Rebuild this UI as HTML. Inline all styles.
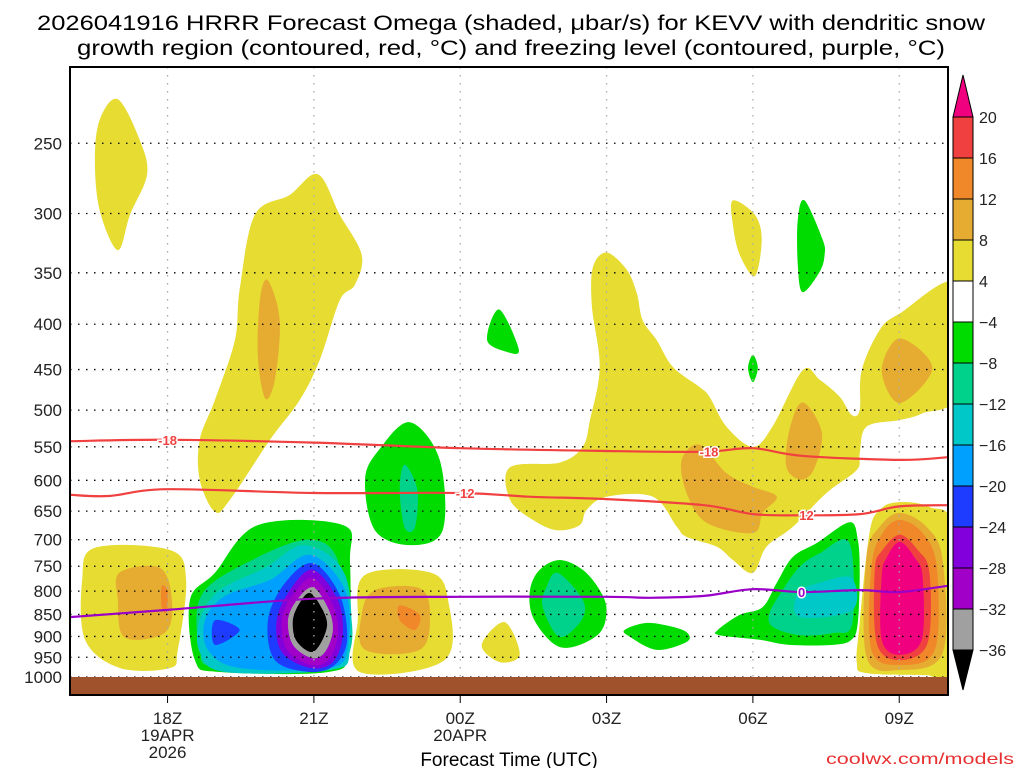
<!DOCTYPE html>
<html><head><meta charset="utf-8"><style>
html,body{margin:0;padding:0;background:#fff;}
svg{display:block;font-family:"Liberation Sans","DejaVu Sans",sans-serif;}
</style></head><body>
<svg id="chart" width="1024" height="768" viewBox="0 0 1024 768" xmlns="http://www.w3.org/2000/svg">
<rect x="0" y="0" width="1024" height="768" fill="#fff"/>
<text x="511" y="30" font-size="21" text-anchor="middle" textLength="948" lengthAdjust="spacingAndGlyphs">2026041916 HRRR Forecast Omega (shaded, μbar/s) for KEVV with dendritic snow</text>
<text x="511" y="55" font-size="21" text-anchor="middle" textLength="868" lengthAdjust="spacingAndGlyphs">growth region (contoured, red, °C) and freezing level (contoured, purple, °C)</text>
<defs><clipPath id="plotclip"><rect x="70" y="67" width="878" height="628"/></clipPath></defs>
<g id="fills" clip-path="url(#plotclip)"></g>
<g id="grid"></g>
<g id="lines" clip-path="url(#plotclip)"></g>
<rect x="70" y="677" width="878" height="18" fill="#a0522d"/>
<rect x="70" y="67" width="878" height="628" fill="none" stroke="#000" stroke-width="2"/>
<g id="axes"></g>
<g id="cbar"></g>
<text x="509" y="766" font-size="19" text-anchor="middle">Forecast Time (UTC)</text>
<text x="1014" y="764" font-size="16" fill="#e83030" text-anchor="end" textLength="188" lengthAdjust="spacingAndGlyphs">coolwx.com/models</text>
</svg>
<script>
// ---- data ----
const pressureTicks = [250,300,350,400,450,500,550,600,650,700,750,800,850,900,950,1000];
const timeTickHours = [2,5,8,11,14,17];
const timeTickLabels = [["18Z","19APR","2026"],["21Z"],["00Z","20APR"],["03Z"],["06Z"],["09Z"]];
const cbarLevels = [20,16,12,8,4,-4,-8,-12,-16,-20,-24,-28,-32,-36];
const cbarColors = ["#f0007f","#f04040","#f0882a","#e6ac32","#e6dc32","#ffffff","#00dc00","#00d28c","#00c8c8","#00a0ff","#1e3cff","#8200dc","#a000c8","#a0a0a0","#000000"];
// blobs: [colorIndex, [[hour, pressure], ...]]  (hour 0 = 16Z 19APR)
const blobTopLeft = [4,[[0.98,223],[1.43,248],[1.58,271],[1.23,301],[0.98,330],[0.61,298],[0.51,261],[0.61,235]]];
const blobUpperYellow = [4,[[5.08,271],[5.53,301],[5.98,334],[5.84,361],[5.53,376],[5.12,439],[4.71,487],[4.1,540],[3.28,631],[2.97,651],[2.66,599],[2.66,540],[2.97,487],[3.38,417],[3.48,365],[3.79,301],[4.5,286]]];
const blobUpperOrange = [3,[[4.06,357],[4.3,396],[4.2,462],[4.0,485],[3.85,434],[3.9,373]]];
const blobLLYellow = [4,[[0.51,715],[2.05,719],[2.38,777],[2.21,932],[2.05,977],[1.02,977],[0.31,908],[0.25,777]]];
const blobLLOrange = [3,[[1.02,762],[1.84,753],[2.09,818],[1.95,891],[1.12,902],[0.98,818]]];
const blobLLOrange2 = [2,[[1.88,790],[2.0,800],[1.98,845],[1.88,835]]];
const blobCoreGreen = [6,[[3.85,674],[5.6,674],[5.74,740],[5.7,932],[5.3,987],[3.07,987],[2.56,957],[2.46,818],[2.97,763]]];
const blobCoreTeal = [7,[[4.92,700],[5.53,750],[5.6,960],[3.07,975],[2.66,930],[2.7,808],[3.69,740]]];
const blobCoreCyan = [8,[[4.82,710],[5.64,767],[5.74,932],[5.33,982],[3.18,987],[2.66,937],[2.66,862],[3.07,798],[4.0,753]]];
const blobCoreLtBlue = [9,[[4.92,728],[5.64,798],[5.7,920],[5.33,977],[3.48,977],[2.83,932],[2.77,862],[3.18,810],[4.1,777]]];
const blobCoreBlueL = [10,[[2.97,863],[3.48,885],[2.97,920]]];
const blobCoreBlue = [10,[[4.98,744],[5.53,808],[5.68,908],[5.43,969],[4.92,987],[4.2,957],[4.06,862],[4.41,783]]];
const blobCorePurple = [11,[[4.98,757],[5.49,819],[5.59,897],[5.39,962],[4.92,977],[4.34,937],[4.24,862],[4.51,798]]];
const blobCoreMagenta = [12,[[4.98,773],[5.39,829],[5.49,897],[5.29,957],[4.92,969],[4.45,932],[4.34,862],[4.57,808]]];
const blobCoreGray = [13,[[4.98,792],[5.29,836],[5.39,885],[5.23,937],[4.96,952],[4.57,920],[4.47,862],[4.65,819]]];
const blobCoreBlack = [14,[[4.92,804],[5.16,836],[5.27,874],[5.12,920],[4.92,937],[4.63,908],[4.57,862],[4.71,825]]];
const blobMidYellow = [4,[[6.05,767],[7.38,762],[7.75,818],[7.68,957],[5.94,987],[5.9,863]]];
const blobMidOrange = [3,[[6.25,798],[7.17,794],[7.38,851],[7.17,932],[6.05,932],[5.98,851]]];
const blobMidOrange2 = [2,[[6.76,830],[7.17,851],[7.07,885],[6.76,863]]];
const blobGreen600 = [6,[[6.97,516],[7.58,569],[7.64,683],[6.97,710],[6.25,683],[6.05,598],[6.35,553]]];
const blobTeal600 = [7,[[6.86,576],[7.12,615],[7.07,678],[6.86,678],[6.76,615]]];
const blobGreen420 = [6,[[8.8,385],[9.2,427],[8.97,430],[8.55,417]]];
const blobSmallYellow = [4,[[8.91,867],[9.22,944],[8.81,962],[8.44,920]]];
const blobGreen02 = [6,[[10.04,738],[10.51,757],[10.86,798],[11.0,840],[10.86,892],[10.31,925],[9.9,916],[9.49,856],[9.43,798],[9.63,757]]];
const blobTeal02 = [7,[[10.0,763],[10.51,818],[10.49,862],[10.04,901],[9.69,834],[9.77,791]]];
const blobGreen04 = [6,[[11.37,885],[11.82,869],[12.36,878],[12.66,892],[12.64,913],[12.03,932],[11.48,901]]];
const blobBigYellow = [4,[[11.0,332],[11.41,347],[11.62,369],[11.74,396],[12.03,417],[12.36,447],[12.91,471],[13.11,483],[13.46,522],[14.0,550],[14.4,522],[15.02,451],[15.37,462],[15.78,483],[16.02,506],[16.19,500],[16.23,451],[16.6,406],[17.01,389],[18.2,360],[18.2,478],[17.48,504],[17.01,513],[16.33,522],[16.19,559],[16.13,584],[15.51,620],[14.82,677],[14.28,713],[14.0,763],[13.59,738],[13.26,713],[12.64,695],[12.44,677],[11.95,626],[11.0,626],[10.59,648],[10.45,674],[9.98,683],[9.49,665],[9.02,631],[9.02,580],[10.04,573],[10.51,550],[10.66,513],[10.86,447],[10.7,382],[10.72,345]]];
const blobBigOrange1 = [3,[[12.54,569],[12.91,547],[13.46,589],[14.0,610],[14.49,626],[14.2,653],[14.0,688],[13.05,670],[12.64,620]]];
const blobBigOrange2 = [3,[[15.02,490],[15.41,529],[15.27,580],[15.0,599],[14.69,580],[14.75,526]]];
const blobBigOrange3 = [3,[[17.01,415],[17.68,448],[17.01,491],[16.64,451]]];
const blobYellow06 = [4,[[13.59,290],[14.04,301],[14.18,321],[14.04,353],[13.73,334],[13.59,309]]];
const blobGreen07 = [6,[[15.06,290],[15.43,321],[15.47,334],[15.37,349],[15.02,368],[14.92,343],[14.92,305]]];
const blobGreenTiny = [6,[[14.0,433],[14.1,448],[14.0,465],[13.9,448]]];
const blobGreen08 = [6,[[15.98,669],[16.15,700],[16.19,763],[16.15,869],[16.02,908],[15.64,920],[14.75,920],[14.14,908],[13.32,897],[13.28,885],[13.73,851],[14.2,834],[14.49,783],[14.82,732],[15.31,706]]];
const blobTeal08 = [7,[[15.98,706],[16.04,869],[15.64,892],[14.96,897],[14.41,878],[14.34,847],[14.61,798],[14.96,751],[15.37,725]]];
const blobCyan08 = [8,[[16.02,773],[16.04,840],[14.96,856],[14.92,804],[15.37,783]]];
const blob09Yellow = [4,[[16.97,635],[17.62,643],[18.1,683],[18.1,995],[17.56,995],[16.33,990],[16.13,964],[16.19,869],[16.39,688],[16.6,648]]];
const blob09LtOrange = [3,[[17.01,653],[17.56,677],[17.89,738],[17.89,940],[17.01,982],[16.33,949],[16.33,732],[16.6,677]]];
const blob09Orange = [2,[[17.01,665],[17.48,688],[17.77,751],[17.73,932],[17.01,969],[16.43,932],[16.43,751],[16.66,688]]];
const blob09Red = [1,[[17.01,691],[17.38,719],[17.62,763],[17.58,916],[17.01,957],[16.54,916],[16.5,757],[16.66,719]]];
const blob09Pink = [0,[[17.01,704],[17.32,734],[17.48,771],[17.46,908],[17.01,944],[16.64,908],[16.64,771],[16.74,734]]];
const blobs = [blobTopLeft,blobUpperYellow,blobUpperOrange,blobLLYellow,blobLLOrange,blobLLOrange2,
 blobCoreGreen,blobCoreTeal,blobCoreCyan,blobCoreLtBlue,blobCoreBlueL,blobCoreBlue,blobCorePurple,blobCoreMagenta,blobCoreGray,blobCoreBlack,
 blobMidYellow,blobMidOrange,blobMidOrange2,blobGreen600,blobTeal600,blobGreen420,blobSmallYellow,blobGreen02,blobTeal02,blobGreen04,
 blobBigYellow,blobBigOrange1,blobBigOrange2,blobBigOrange3,blobYellow06,blobGreen07,blobGreenTiny,blobGreen08,blobTeal08,blobCyan08,
 blob09Yellow,blob09LtOrange,blob09Orange,blob09Red,blob09Pink];
const lineHours18 = [0,2,5,8,11,13,14,15,17,18];
const lineP18 = [542,540,544,552,556,557,552,563,569,565];
const lineHours12 = [0,0.8,2,5,8,9.4,11,13,14,15,16.2,17,18];
const lineP12 = [623,625,614,620,620,626,630,640,655,657,655,642,640];
const lineHours0 = [0,2,5,8,11,11.9,13,14,15,16.2,17,18];
const lineP0 = [856,840,816,812,812,814,810,796,802,798,802,789];
const labels18 = [[2,"-18"],[13.1,"-18"]];
const labels12 = [[8.1,"-12"],[15.1,"12"]];
const labels0 = [[15.0,"0"]];

// ---- axis functions ----
const X0=70, XW=878, HMAX=18, YB=677, K=385;
function x(h){return X0 + h/HMAX*XW;}
function y(p){return YB - K*Math.log(1000/p);}
const NS="http://www.w3.org/2000/svg";
function mk(tag,attrs,parent){const e=document.createElementNS(NS,tag);for(const k in attrs)e.setAttribute(k,attrs[k]);parent.appendChild(e);return e;}
function smoothClosed(pts){
  const n=pts.length;let d=`M${pts[0][0].toFixed(1)},${pts[0][1].toFixed(1)}`;
  for(let i=0;i<n;i++){const p0=pts[(i-1+n)%n],p1=pts[i],p2=pts[(i+1)%n],p3=pts[(i+2)%n];
    const c1=[p1[0]+(p2[0]-p0[0])/6,p1[1]+(p2[1]-p0[1])/6],c2=[p2[0]-(p3[0]-p1[0])/6,p2[1]-(p3[1]-p1[1])/6];
    d+=`C${c1[0].toFixed(1)},${c1[1].toFixed(1)} ${c2[0].toFixed(1)},${c2[1].toFixed(1)} ${p2[0].toFixed(1)},${p2[1].toFixed(1)}`;}
  return d+"Z";}
function smoothOpen(pts){
  const n=pts.length;let d=`M${pts[0][0].toFixed(1)},${pts[0][1].toFixed(1)}`;
  for(let i=0;i<n-1;i++){const p0=pts[Math.max(i-1,0)],p1=pts[i],p2=pts[i+1],p3=pts[Math.min(i+2,n-1)];
    const c1=[p1[0]+(p2[0]-p0[0])/6,p1[1]+(p2[1]-p0[1])/6],c2=[p2[0]-(p3[0]-p1[0])/6,p2[1]-(p3[1]-p1[1])/6];
    d+=`C${c1[0].toFixed(1)},${c1[1].toFixed(1)} ${c2[0].toFixed(1)},${c2[1].toFixed(1)} ${p2[0].toFixed(1)},${p2[1].toFixed(1)}`;}
  return d;}

// fills
const gF=document.getElementById('fills');
blobs.forEach((b,i)=>{
  const pts=b[1].map(q=>[x(q[0]),y(q[1])]);
  const el=mk('path',{d:smoothClosed(pts),fill:cbarColors[b[0]]},gF);
  
  
});

// grid
const gG=document.getElementById('grid');
pressureTicks.forEach(p=>{
  const el=mk('line',{x1:X0,x2:X0+XW,y1:y(p),y2:y(p),stroke:'#000','stroke-width':1.3,'stroke-dasharray':'1.5,6.5'},gG);
  
  
});
timeTickHours.forEach(h=>{
  const el=mk('line',{x1:x(h),x2:x(h),y1:67,y2:695,stroke:'#aaa','stroke-width':1.3,'stroke-dasharray':'1.5,6.5'},gG);
  
  
});

// contour lines
const gL=document.getElementById('lines');
function drawLine(hs,ps,color,name,labs){
  const pts=hs.map((h,i)=>[x(h),y(ps[i])]);
  const el=mk('path',{d:smoothOpen(pts),fill:'none',stroke:color,'stroke-width':2.2},gL);
  
  
  labs.forEach(l=>{
    let pp=ps[0];for(let i=0;i<hs.length-1;i++){if(l[0]>=hs[i]&&l[0]<=hs[i+1]){pp=ps[i]+(ps[i+1]-ps[i])*(l[0]-hs[i])/(hs[i+1]-hs[i]);}}
    const t=mk('text',{x:x(l[0]),y:y(pp)+5,'font-size':13,'font-weight':'bold',fill:color,'text-anchor':'middle',stroke:'#fff','stroke-width':3,'paint-order':'stroke'},gL);
    t.textContent=l[1];
    
    
  });
}
drawLine(lineHours18,lineP18,'#f04040','isotherm-minus-18',labels18);
drawLine(lineHours12,lineP12,'#f04040','isotherm-minus-12',labels12);
drawLine(lineHours0,lineP0,'#9a00c8','freezing-level-0c',labels0);

// axes labels
const gA=document.getElementById('axes');
pressureTicks.forEach(p=>{
  const t=mk('text',{x:62,y:y(p)+6,'font-size':17,'text-anchor':'end',fill:'#222'},gA);
  t.textContent=String(p);
  
  
});
timeTickHours.forEach((h,i)=>{
  timeTickLabels[i].forEach((s,j)=>{
    const t=mk('text',{x:x(h),y:724+j*17,'font-size':17,'text-anchor':'middle',fill:'#222'},gA);
    t.textContent=s;
    
    
  });
  const tk=mk('line',{x1:x(h),x2:x(h),y1:695,y2:703,stroke:'#000','stroke-width':1},gA);
  
  
});

// colorbar
const gC=document.getElementById('cbar');
const CX=953,CW=20,CT=117,CS=41;
const tri=mk('path',{d:`M${CX},${CT}L${CX+CW/2},75L${CX+CW},${CT}Z`,fill:cbarColors[0],stroke:'#000','stroke-width':1},gC);


for(let i=1;i<cbarColors.length-1;i++){
  const r=mk('rect',{x:CX,y:CT+(i-1)*CS,width:CW,height:CS,fill:cbarColors[i],stroke:'#000','stroke-width':1},gC);
  
  
}
const nseg=cbarColors.length-2;
const bt=mk('path',{d:`M${CX},${CT+nseg*CS}L${CX+CW/2},${CT+nseg*CS+40}L${CX+CW},${CT+nseg*CS}Z`,fill:cbarColors[cbarColors.length-1],stroke:'#000','stroke-width':1},gC);


cbarLevels.forEach((v,i)=>{
  const t=mk('text',{x:979,y:CT+i*CS+6,'font-size':16,fill:'#222'},gC);
  t.textContent=(v<0?'\u2212':'')+Math.abs(v);
  
  
});
</script>
</body></html>
